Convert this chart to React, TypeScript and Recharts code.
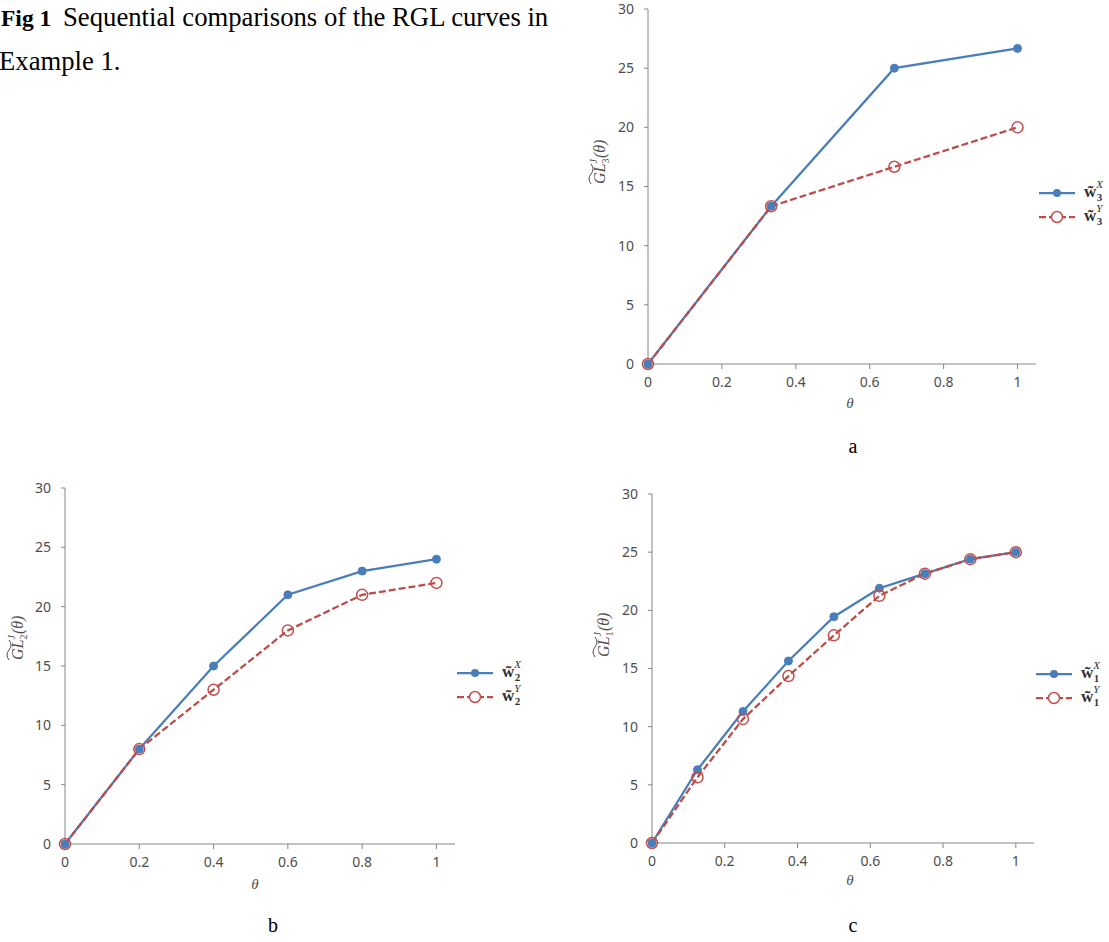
import React from "react";
import { LineChart, Line, XAxis, YAxis } from "recharts";

// shared axis ticks
const thetaTicks = [0, 0.2, 0.4, 0.6, 0.8, 1];
const glTicks = [0, 5, 10, 15, 20, 25, 30];

// panel a: w3
const thetaA = [0, 0.3333, 0.6667, 1];
const w3X = [0, 13.33, 25, 26.67];
const w3Y = [0, 13.33, 16.67, 20];

// panel b: w2
const thetaB = [0, 0.2, 0.4, 0.6, 0.8, 1];
const w2X = [0, 8, 15, 21, 23, 24];
const w2Y = [0, 8, 13, 18, 21, 22];

// panel c: w1
const thetaC = [0, 0.125, 0.25, 0.375, 0.5, 0.625, 0.75, 0.875, 1];
const w1X = [0, 6.3, 11.3, 15.65, 19.45, 21.9, 23.15, 24.4, 25];
const w1Y = [0, 5.65, 10.65, 14.35, 17.85, 21.25, 23.15, 24.4, 25];

const BLUE = "#4A7EBB";
const RED = "#BE4B48";
const AXIS = "#868686";
const TXT = "#4d4d4d";
const SERIF = "'Liberation Serif', 'Times New Roman', serif";
const SANS = "'Noto Sans', 'Open Sans', sans-serif";

const rows = (theta: number[], wx: number[], wy: number[]) =>
  theta.map((t, i) => ({ theta: t, wx: wx[i], wy: wy[i] }));

function YLabel({ cx, cy, sub }: { cx: number; cy: number; sub: string }) {
  // rotated label: ~GL_sub^J(θ), drawn from its left end
  return (
    <g transform={`translate(${cx},${cy}) rotate(-90)`}>
      <path d="M -25 -9 q 5 -4 10 0 t 10 0" fill="none" stroke={TXT} strokeWidth={1} />
      <text x={-25} y={5} textAnchor="start" fill={TXT} fontFamily={SERIF} fontSize={16} fontStyle="italic">
        <tspan>GL</tspan>
        <tspan dy={4} fontSize={10} fontStyle="normal">{sub}</tspan>
        <tspan dx={-5} dy={-12} fontSize={10}>J</tspan>
        <tspan dx={1} dy={8}>(θ)</tspan>
      </text>
    </g>
  );
}

function XLabel({ cx, cy }: { cx: number; cy: number }) {
  return (
    <text x={cx} y={cy} textAnchor="middle" dominantBaseline="central" fill={TXT} fontFamily={SERIF} fontSize={15} fontStyle="italic">
      θ
    </text>
  );
}

function Panel(props: {
  left: number; top: number; width: number; height: number; yw: number;
  data: { theta: number; wx: number; wy: number }[];
  sub: string; ylx: number; yly: number; xlx: number; xly: number;
}) {
  const { left, top, width, height, yw, data, sub, ylx, yly, xlx, xly } = props;
  const tick = { fill: TXT, fontSize: 14, fontFamily: SANS };
  return (
    <div style={{ position: "absolute", left, top }}>
      <LineChart width={width} height={height} data={data} margin={{ top: 10, right: 5, bottom: 0, left: 0 }}>
        <XAxis
          type="number" dataKey="theta" domain={[0, 1.05]} ticks={thetaTicks} interval={0}
          stroke={AXIS} tick={tick} tickSize={5} tickMargin={8} height={50}
          tickFormatter={(v: number) => String(v)}
          label={<XLabel cx={xlx} cy={xly} />}
        />
        <YAxis
          type="number" domain={[0, 30]} ticks={glTicks} interval={0} width={yw}
          stroke={AXIS} tick={tick} tickSize={4} tickMargin={10}
          label={<YLabel cx={ylx} cy={yly} sub={sub} />}
        />
        <Line
          dataKey="wx" stroke={BLUE} strokeWidth={2.25} isAnimationActive={false} activeDot={false}
          dot={{ r: 4, fill: BLUE, stroke: BLUE, strokeWidth: 1 }}
        />
        <Line
          dataKey="wy" stroke={RED} strokeWidth={2.25} strokeDasharray="7 3" isAnimationActive={false} activeDot={false}
          dot={{ r: 5.5, fill: "none", stroke: "#C0504D", strokeWidth: 1.5, strokeDasharray: "0" }}
        />
      </LineChart>
    </div>
  );
}

function LegendItem({ x, y, sub, sup, dashed }: { x: number; y: number; sub: string; sup: string; dashed: boolean }) {
  return (
    <g>
      <line x1={x} x2={x + 36} y1={y} y2={y} stroke={dashed ? RED : BLUE} strokeWidth={2.25} strokeDasharray={dashed ? "7 3" : undefined} />
      {dashed ? (
        <circle cx={x + 18} cy={y} r={5.5} fill="#fff" stroke="#C0504D" strokeWidth={1.5} />
      ) : (
        <circle cx={x + 18} cy={y} r={4} fill={BLUE} />
      )}
      <text x={x + 45} y={y + 4} fill="#333" fontFamily={SERIF} fontSize={17}>
        <tspan fontWeight="bold">{"w\u0303"}</tspan>
        <tspan dx={0.5} dy={4} fontSize={11} fontWeight="bold">{sub}</tspan>
        <tspan dx={-6} dy={-13} fontSize={11} fontStyle="italic">{sup}</tspan>
      </text>
    </g>
  );
}

function Legend({ x, y, sub }: { x: number; y: number; sub: string }) {
  return (
    <g>
      <LegendItem x={x} y={y} sub={sub} sup="X" dashed={false} />
      <LegendItem x={x} y={y + 24} sub={sub} sup="Y" dashed />
    </g>
  );
}

export default function App() {
  return (
    <div style={{ position: "absolute", left: 0, top: 0, width: 1109, height: 942, background: "#fff", overflow: "hidden" }}>
      <Panel left={560} top={-1} width={481} height={415} yw={88} data={rows(thetaA, w3X, w3Y)}
        sub="3" ylx={40} yly={160} xlx={290} xly={404} />
      <Panel left={0} top={478} width={460} height={416} yw={65} data={rows(thetaB, w2X, w2Y)}
        sub="2" ylx={18} yly={157} xlx={255} xly={406} />
      <Panel left={560} top={484} width={479} height={409} yw={92} data={rows(thetaC, w1X, w1Y)}
        sub="1" ylx={44} yly={148} xlx={290} xly={396} />
      <svg width={1109} height={942} style={{ position: "absolute", left: 0, top: 0, pointerEvents: "none" }}>
        <text y={26} fontFamily={SERIF} fontSize={26.7} fill="#000">
          <tspan x={1} fontWeight="bold" fontSize={23.5}>Fig 1</tspan>
          <tspan x={63}>Sequential comparisons of the RGL curves in</tspan>
        </text>
        <text x={-1} y={70} fontFamily={SERIF} fontSize={26.7} fill="#000">Example 1.</text>
        <Legend x={1039} y={193} sub="3" />
        <Legend x={457} y={673} sub="2" />
        <Legend x={1036} y={674} sub="1" />
        <text x={853} y={453} textAnchor="middle" fontFamily={SERIF} fontSize={20} fill="#000">a</text>
        <text x={273} y={932} textAnchor="middle" fontFamily={SERIF} fontSize={20} fill="#000">b</text>
        <text x={853} y={932} textAnchor="middle" fontFamily={SERIF} fontSize={20} fill="#000">c</text>
      </svg>
    </div>
  );
}
